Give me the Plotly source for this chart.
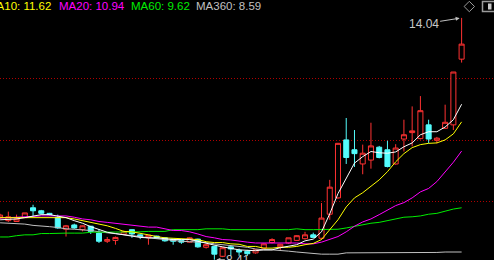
import plotly.graph_objects as go

# ---- data (prices) ----
opens = [9.39, 9.32, 9.30, 9.39, 9.62, 9.55, 9.49, 9.39, 9.12, 9.22,
         9.11, 9.19, 9.03, 8.84, 8.86, 9.00, 9.11, 8.99, 8.92, 8.96,
         8.92, 8.89, 8.86, 8.82, 8.89, 8.70, 8.72, 8.49, 8.71, 8.63,
         8.61, 8.57, 8.68, 8.81, 8.71, 8.80, 8.86, 8.90, 8.99, 8.91,
         9.47, 9.85, 11.20, 10.97, 10.64, 10.73, 11.03, 10.97, 10.64, 11.22,
         11.37, 11.23, 11.55, 11.19, 11.47, 11.55, 13.08]
highs = [9.48, 9.53, 9.46, 9.50, 9.69, 9.57, 9.50, 9.46, 9.22, 9.25,
         9.21, 9.20, 9.12, 8.94, 8.95, 9.09, 9.12, 9.00, 8.99, 8.97,
         8.93, 8.90, 8.88, 8.93, 8.90, 8.78, 8.74, 8.71, 8.74, 8.67,
         8.64, 8.65, 8.79, 8.91, 8.78, 8.92, 8.98, 9.06, 9.04, 9.73,
         10.27, 11.13, 11.71, 11.43, 11.09, 11.60, 11.06, 11.18, 11.10, 11.67,
         11.98, 12.22, 11.67, 11.27, 12.02, 12.78, 14.04]
lows = [9.36, 9.29, 9.29, 9.39, 9.43, 9.46, 9.44, 9.13, 8.95, 9.13,
        9.07, 9.01, 8.80, 8.80, 8.76, 8.99, 8.92, 8.89, 8.76, 8.90,
        8.83, 8.76, 8.78, 8.81, 8.69, 8.67, 8.41, 8.47, 8.50, 8.50,
        8.50, 8.55, 8.67, 8.79, 8.64, 8.78, 8.85, 8.88, 8.92, 8.88,
        9.34, 9.83, 10.64, 10.57, 10.40, 10.53, 10.77, 10.56, 10.62, 10.93,
        11.05, 11.21, 11.12, 11.12, 11.46, 11.43, 13.00]
closes = [9.45, 9.41, 9.36, 9.50, 9.55, 9.49, 9.46, 9.15, 9.20, 9.15,
          9.20, 9.07, 8.84, 8.88, 8.93, 9.06, 9.01, 8.95, 8.98, 8.92,
          8.85, 8.84, 8.82, 8.92, 8.71, 8.76, 8.54, 8.69, 8.66, 8.59,
          8.55, 8.64, 8.78, 8.88, 8.77, 8.92, 8.97, 8.99, 8.93, 9.38,
          10.10, 11.12, 10.79, 10.88, 10.89, 11.06, 10.79, 10.58, 11.01, 11.32,
          11.41, 11.88, 11.22, 11.24, 11.61, 12.78, 13.43]

ma5 = [9.34, 9.35, 9.36, 9.39, 9.43, 9.46, 9.46, 9.43, 9.39, 9.32,
       9.26, 9.18, 9.11, 9.05, 9.02, 8.99, 8.96, 8.93, 8.92, 8.92,
       8.90, 8.88, 8.88, 8.88, 8.84, 8.79, 8.75, 8.71, 8.68, 8.64,
       8.63, 8.62, 8.64, 8.64, 8.69, 8.72, 8.76, 8.85, 8.89, 9.06,
       9.48, 9.95, 10.32, 10.66, 10.81, 10.93, 10.90, 10.89, 10.92, 11.04,
       11.13, 11.32, 11.39, 11.39, 11.50, 11.67, 12.03]
ma10 = [9.39, 9.39, 9.39, 9.40, 9.40, 9.40, 9.40, 9.40, 9.39, 9.36,
        9.32, 9.28, 9.25, 9.20, 9.14, 9.07, 9.06, 9.03, 8.99, 8.95,
        8.92, 8.91, 8.90, 8.89, 8.88, 8.83, 8.81, 8.81, 8.78, 8.77,
        8.72, 8.72, 8.68, 8.68, 8.70, 8.70, 8.72, 8.76, 8.79, 8.88,
        9.10, 9.34, 9.64, 9.85, 9.97, 10.13, 10.27, 10.46, 10.69, 10.88,
        11.02, 11.09, 11.12, 11.13, 11.20, 11.34, 11.62]
ma20 = [9.38, 9.39, 9.40, 9.41, 9.43, 9.43, 9.43, 9.43, 9.43, 9.40,
        9.36, 9.34, 9.30, 9.28, 9.26, 9.24, 9.22, 9.19, 9.17, 9.17,
        9.13, 9.09, 9.09, 9.06, 9.01, 8.95, 8.92, 8.88, 8.87, 8.84,
        8.82, 8.80, 8.80, 8.80, 8.80, 8.80, 8.80, 8.78, 8.78, 8.82,
        8.88, 8.95, 9.06, 9.19, 9.29, 9.36, 9.46, 9.56, 9.67, 9.74,
        9.85, 9.99, 10.07, 10.23, 10.45, 10.68, 10.94]
ma60 = [8.94, 8.94, 8.97, 8.99, 8.99, 9.02, 9.02, 9.03, 9.03, 9.03,
        9.03, 9.05, 9.05, 9.05, 9.05, 9.06, 9.06, 9.06, 9.07, 9.07,
        9.07, 9.11, 9.11, 9.11, 9.11, 9.13, 9.13, 9.13, 9.11, 9.11,
        9.11, 9.11, 9.11, 9.11, 9.11, 9.11, 9.13, 9.11, 9.11, 9.11,
        9.11, 9.12, 9.15, 9.19, 9.22, 9.26, 9.28, 9.32, 9.36, 9.40,
        9.41, 9.43, 9.47, 9.49, 9.54, 9.59, 9.62]
ma360 = [9.27, 9.26, 9.25, 9.24, 9.21, 9.20, 9.18, 9.16, 9.13, 9.12,
         9.11, 9.09, 9.06, 9.04, 9.02, 8.99, 8.97, 8.95, 8.92, 8.90,
         8.88, 8.85, 8.84, 8.83, 8.82, 8.81, 8.78, 8.76, 8.74, 8.72,
         8.70, 8.66, 8.64, 8.64, 8.63, 8.61, 8.59, 8.57, 8.56, 8.54,
         8.54, 8.54, 8.57, 8.57, 8.57, 8.57, 8.57, 8.57, 8.57, 8.57,
         8.58, 8.58, 8.58, 8.58, 8.59, 8.59, 8.59]

legend_items = [("MA10", "11.62", "#ffff00"), ("MA20", "10.94", "#ff00ff"),
                ("MA60", "9.62", "#00ee00"), ("MA360", "8.59", "#c0c0c0")]
grid_levels = [9.76, 11.18, 12.62]
high_label = "14.04"
low_label = "8.41"

x = list(range(len(opens)))
W, H = 494, 260

RED = "#ff3232"
CYAN = "#54fcfc"

fig = go.Figure()
fig.add_trace(go.Candlestick(
    x=x, open=opens, high=highs, low=lows, close=closes,
    increasing=dict(line=dict(color=RED, width=1), fillcolor="black"),
    decreasing=dict(line=dict(color=CYAN, width=1), fillcolor=CYAN),
    whiskerwidth=0, hoverinfo="skip", showlegend=False))

for vals, col in [(ma360, "#c0c0c0"), (ma60, "#00ee00"), (ma20, "#ff00ff"),
                  (ma10, "#ffff00"), (ma5, "#ffffff")]:
    fig.add_trace(go.Scatter(x=x, y=vals, mode="lines",
                             line=dict(color=col, width=1),
                             hoverinfo="skip", showlegend=False))

def px(xp):
    return xp / W

def py(yp):
    return 1 - yp / H

annotations = []
starts = [-15.5, 57, 129, 194]
for (name, val, col), sx in zip(legend_items, starts):
    annotations.append(dict(xref="paper", yref="paper", x=px(sx), y=1,
                            xanchor="left", yanchor="top", yshift=2,
                            text=f"{name}: {val}", showarrow=False,
                            font=dict(family="Liberation Sans, Arial", size=11.5, color=col)))

annotations.append(dict(x=len(x) - 1, y=highs[-1], xref="x", yref="y",
                        text=high_label, showarrow=True, ax=-38, ay=6,
                        arrowhead=2, arrowsize=0.8, arrowwidth=1, standoff=2,
                        arrowcolor="#c0c0c0",
                        font=dict(family="Liberation Sans, Arial", size=12, color="#c8c8c8")))
low_idx = lows.index(min(lows))
annotations.append(dict(x=low_idx, y=lows[low_idx], xref="x", yref="y",
                        text=low_label, showarrow=True, ax=24, ay=0,
                        arrowhead=2, arrowsize=0.8, arrowwidth=1, standoff=2,
                        arrowcolor="#c0c0c0",
                        font=dict(family="Liberation Sans, Arial", size=12, color="#c8c8c8")))

shapes = [
    dict(type="path", xref="paper", yref="paper",
         path=f"M {px(469.3)} {py(1.3)} L {px(474.5)} {py(6.5)} L {px(469.3)} {py(11.7)} L {px(464.1)} {py(6.5)} Z",
         line=dict(color="#9a9a9a", width=1)),
    dict(type="rect", xref="paper", yref="paper", x0=px(482.5), x1=px(497), y0=py(1.5), y1=py(11.5),
         line=dict(color="#9a9a9a", width=1.5)),
    dict(type="rect", xref="paper", yref="paper", x0=px(488), x1=px(491.5), y0=py(3.5), y1=py(9.5),
         line=dict(width=0), fillcolor="#c8c8c8"),
]

fig.update_layout(
    width=W, height=H, margin=dict(l=0, r=0, t=0, b=0),
    paper_bgcolor="black", plot_bgcolor="black",
    boxgap=0.13,
    xaxis=dict(range=[-0.01, 59.93], showgrid=False, zeroline=False,
               showticklabels=False, ticks="", rangeslider=dict(visible=False),
               fixedrange=True),
    yaxis=dict(range=[8.404, 14.457], tickvals=grid_levels, showticklabels=False,
               ticks="", showgrid=True, gridcolor="#b00000", gridwidth=1,
               griddash="1px,2px", zeroline=False, fixedrange=True),
    annotations=annotations, shapes=shapes, showlegend=False,
)

fig.write_html("out.html")
